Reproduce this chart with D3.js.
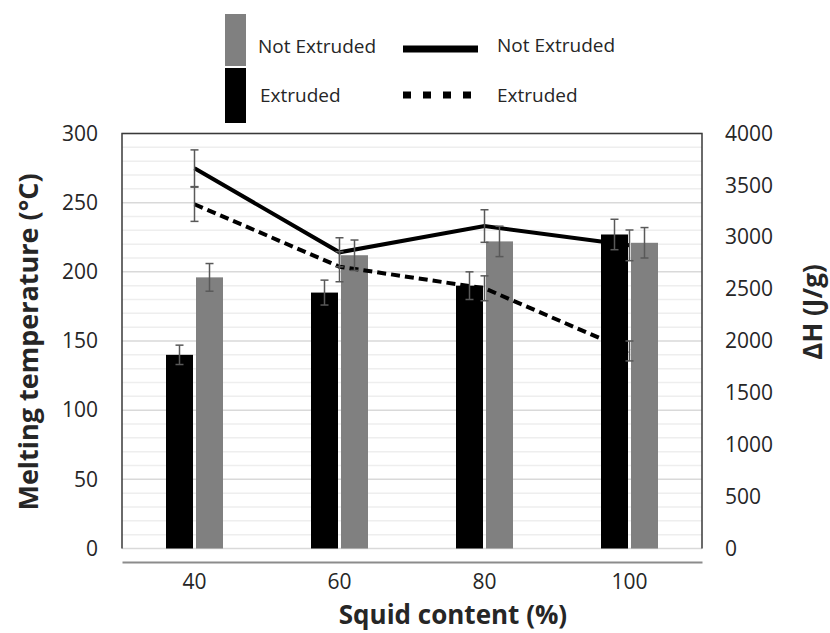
<!DOCTYPE html>
<html>
<head>
<meta charset="utf-8">
<script src="https://cdn.jsdelivr.net/npm/d3@7"></script>
<style>
  body { margin: 0; background: #fff; }
  text { font-family: "Open Sans", sans-serif; fill: #262626; }
</style>
</head>
<body>
<div id="chart"></div>
<script>
// data
let categories = ["40", "60", "80", "100"];
let tempExtruded = [140, 185, 190, 227];
let tempExtrudedErr = [7, 9, 10, 11];
let tempNotExtruded = [196, 212, 222, 221];
let tempNotExtrudedErr = [10, 11, 11, 11];
let dhNotExtruded = [3665, 2855, 3108, 2922];
let dhNotExtrudedErr = [177, 140, 157, 148];
let dhExtruded = [3318, 2716, 2508, 1904];
let dhExtrudedErr = [165, 145, 120, 96];
let leftTicks = [0, 50, 100, 150, 200, 250, 300];
let rightTicks = [0, 500, 1000, 1500, 2000, 2500, 3000, 3500, 4000];

let width = 830, height = 633;
let frame = {left: 122, right: 702, top: 133.5, bottom: 548.5};

let svg = d3.select("#chart").append("svg").attr("width", width).attr("height", height);
svg.append("rect").attr("width", width).attr("height", height).attr("fill", "#fff");

let x = d3.scaleBand().domain(categories).range([frame.left, frame.right]);
let yL = d3.scaleLinear().domain([0, 300]).range([frame.bottom, frame.top]);
let yR = d3.scaleLinear().domain([0, 4000]).range([frame.bottom, frame.top]);

// gridlines: minor every 10, major every 50
let minor = d3.range(0, 301, 10).filter(v => v % 50 != 0);
svg.append("g").selectAll("line").data(minor).join("line")
   .attr("x1", frame.left).attr("x2", frame.right)
   .attr("y1", d => yL(d)).attr("y2", d => yL(d))
   .attr("stroke", "#eeeeee").attr("stroke-width", 1.5);
svg.append("g").selectAll("line").data(leftTicks).join("line")
   .attr("x1", frame.left).attr("x2", frame.right)
   .attr("y1", d => yL(d)).attr("y2", d => yL(d))
   .attr("stroke", "#d9d9d9").attr("stroke-width", 1.5);

// frame (left, top, right)
svg.append("path")
   .attr("d", "M" + frame.left + "," + frame.bottom + "V" + frame.top + "H" + frame.right + "V" + frame.bottom)
   .attr("fill", "none").attr("stroke", "#3a3a3a").attr("stroke-width", 1.5);

// bars
let barW = 27, gap = 1.5;
let cx = d => x(d) + x.bandwidth() / 2;
let bars = svg.append("g");
bars.selectAll(".ext").data(categories).join("rect").attr("class", "ext")
    .attr("x", d => cx(d) - gap - barW).attr("width", barW)
    .attr("y", (d, i) => yL(tempExtruded[i]))
    .attr("height", (d, i) => yL(0) - yL(tempExtruded[i]))
    .attr("fill", "#000");
bars.selectAll(".next").data(categories).join("rect").attr("class", "next")
    .attr("x", d => cx(d) + gap).attr("width", barW)
    .attr("y", (d, i) => yL(tempNotExtruded[i]))
    .attr("height", (d, i) => yL(0) - yL(tempNotExtruded[i]))
    .attr("fill", "#808080");

// lines on the right axis
let line = d3.line().x((d, i) => cx(categories[i])).y(d => yR(d));
svg.append("path").attr("d", line(dhNotExtruded))
   .attr("fill", "none").attr("stroke", "#000").attr("stroke-width", 4);
svg.append("path").attr("d", line(dhExtruded))
   .attr("fill", "none").attr("stroke", "#000").attr("stroke-width", 4)
   .attr("stroke-dasharray", "9,5");

// error bars
function errorBars(xs, vals, errs, scale) {
  let g = svg.append("g").attr("stroke", "#595959").attr("stroke-width", 1.5);
  vals.forEach((v, i) => {
    let xx = xs[i], top = scale(v + errs[i]), bot = scale(v - errs[i]);
    g.append("line").attr("x1", xx).attr("x2", xx).attr("y1", top).attr("y2", bot);
    g.append("line").attr("x1", xx - 4).attr("x2", xx + 4).attr("y1", top).attr("y2", top);
    g.append("line").attr("x1", xx - 4).attr("x2", xx + 4).attr("y1", bot).attr("y2", bot);
  });
}
errorBars(categories.map(d => cx(d) - gap - barW / 2), tempExtruded, tempExtrudedErr, yL);
errorBars(categories.map(d => cx(d) + gap + barW / 2), tempNotExtruded, tempNotExtrudedErr, yL);
errorBars(categories.map(cx), dhNotExtruded, dhNotExtrudedErr, yR);
errorBars(categories.map(cx), dhExtruded, dhExtrudedErr, yR);

// axes
let leftAxis = svg.append("g").attr("transform", "translate(" + frame.left + ",0)")
   .call(d3.axisLeft(yL).tickValues(leftTicks).tickSize(0).tickPadding(24));
let rightAxis = svg.append("g").attr("transform", "translate(" + frame.right + ",0)")
   .call(d3.axisRight(yR).tickValues(rightTicks).tickFormat(d3.format("d")).tickSize(0).tickPadding(23));
let bottomAxis = svg.append("g").attr("transform", "translate(0,562)")
   .call(d3.axisBottom(x).tickSize(0).tickPadding(12));
[leftAxis, rightAxis].forEach(a => a.select(".domain").remove());
bottomAxis.select(".domain").attr("stroke", "#8c8c8c").attr("stroke-width", 2);
svg.selectAll(".tick text").style("font-family", "'Open Sans', sans-serif")
   .style("font-size", "21px").attr("fill", "#262626");

// axis titles
svg.append("text").attr("x", 453).attr("y", 624).attr("text-anchor", "middle")
   .style("font-size", "26px").style("font-weight", "bold").text("Squid content (%)");
svg.append("text").attr("transform", "translate(27,342)rotate(-90)")
   .attr("text-anchor", "middle").attr("dominant-baseline", "central")
   .style("font-size", "27px").style("font-weight", "bold").text("Melting temperature (°C)");
svg.append("text").attr("transform", "translate(812,312)rotate(-90)")
   .attr("text-anchor", "middle").attr("dominant-baseline", "central")
   .style("font-size", "26px").style("font-weight", "bold").text("ΔH (J/g)");

// legend
let legend = svg.append("g");
legend.append("rect").attr("x", 225).attr("y", 14).attr("width", 21).attr("height", 52).attr("fill", "#808080");
legend.append("rect").attr("x", 225).attr("y", 68).attr("width", 21).attr("height", 55).attr("fill", "#000");
legend.append("text").attr("x", 258).attr("y", 53).style("font-size", "19px").text("Not Extruded");
legend.append("text").attr("x", 260).attr("y", 102).style("font-size", "19px").text("Extruded");
legend.append("line").attr("x1", 403).attr("x2", 478).attr("y1", 49).attr("y2", 49)
      .attr("stroke", "#000").attr("stroke-width", 7);
legend.append("line").attr("x1", 403).attr("x2", 478).attr("y1", 95).attr("y2", 95)
      .attr("stroke", "#000").attr("stroke-width", 7).attr("stroke-dasharray", "8,12");
legend.append("text").attr("x", 497).attr("y", 52).style("font-size", "19px").text("Not Extruded");
legend.append("text").attr("x", 497).attr("y", 102).style("font-size", "19px").text("Extruded");
</script>
</body>
</html>
